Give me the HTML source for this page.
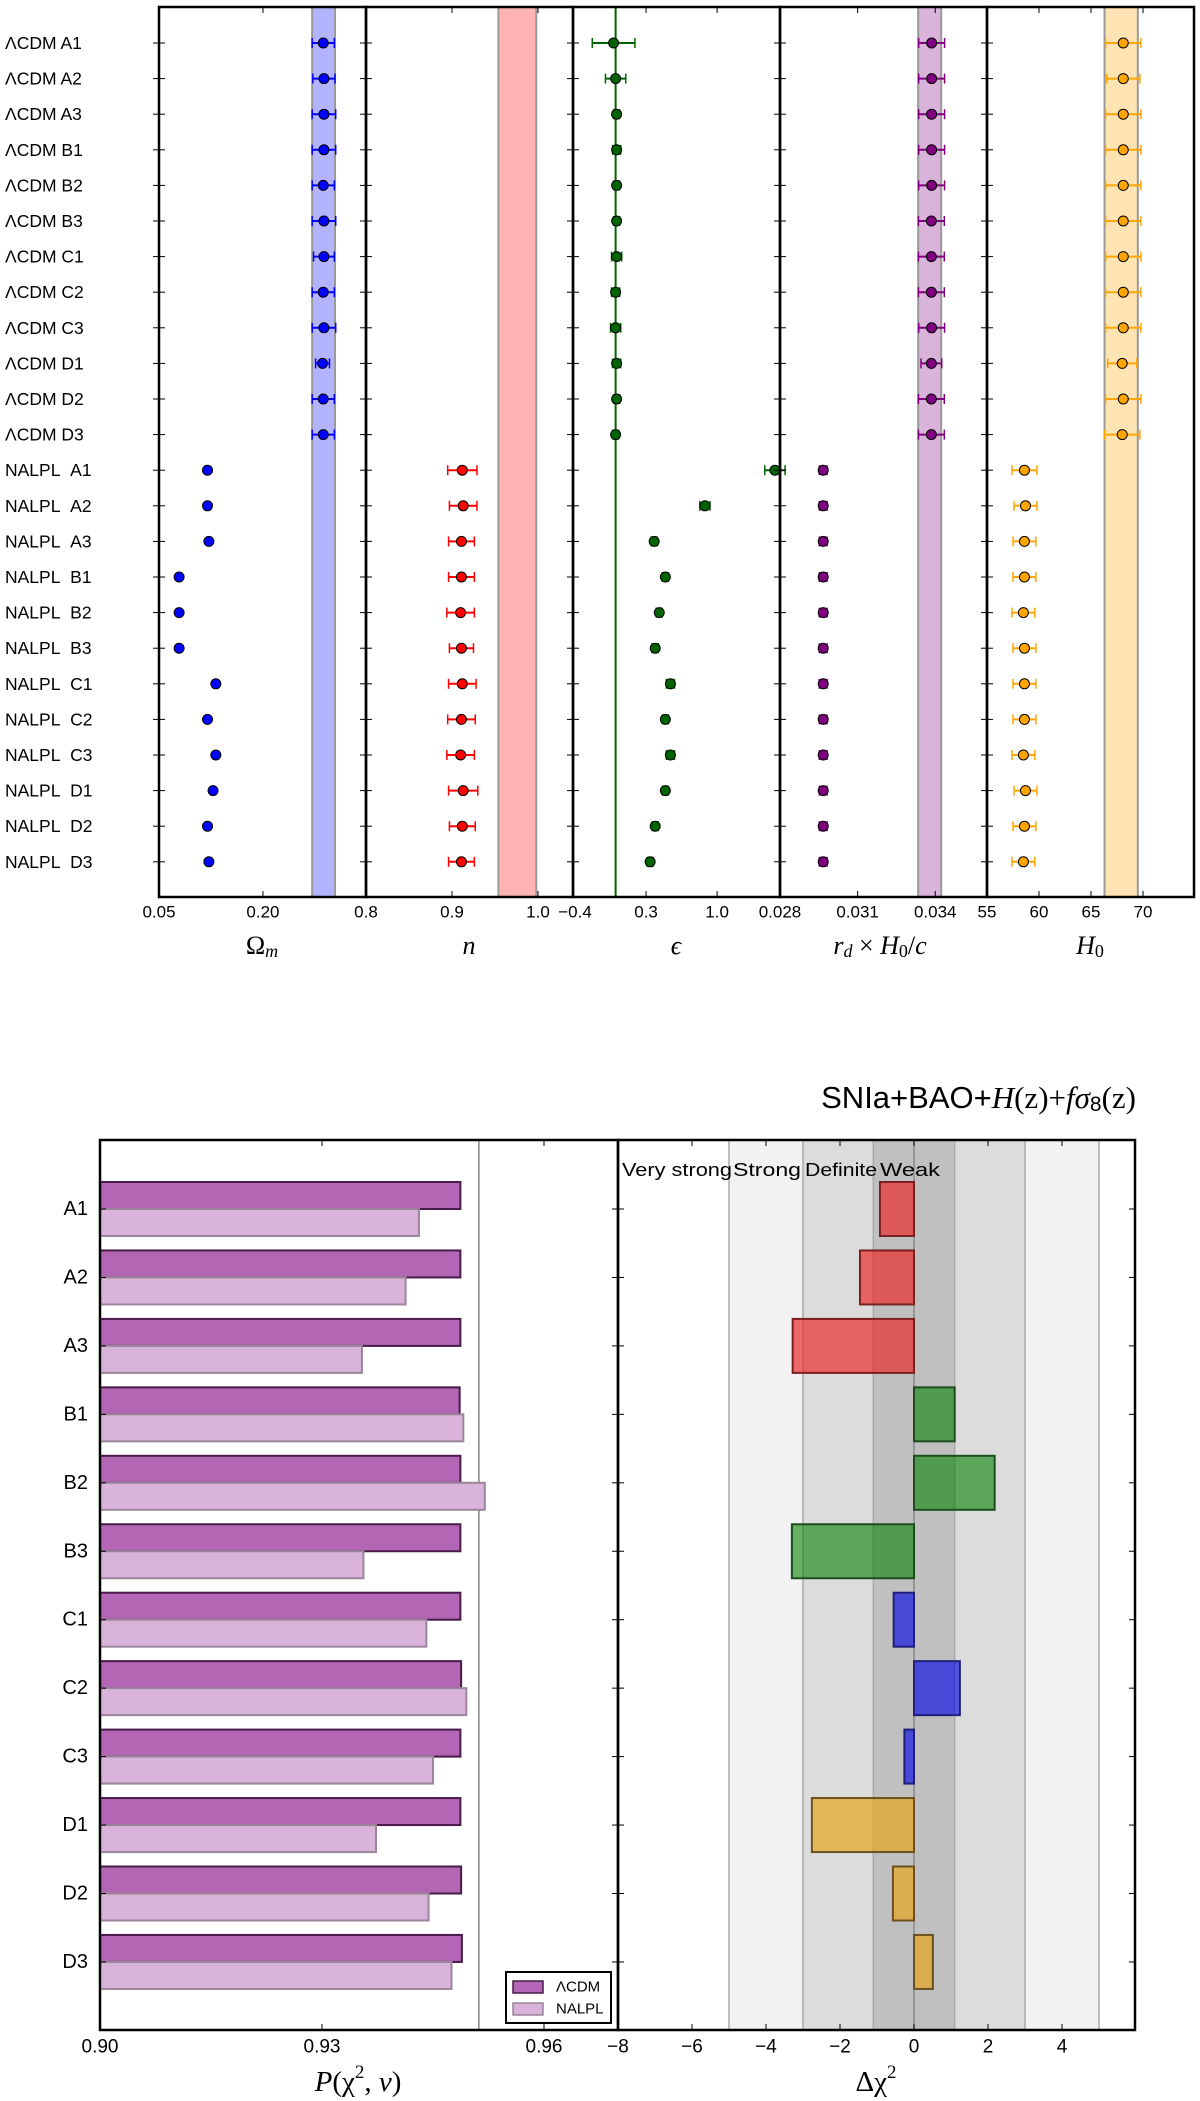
<!DOCTYPE html>
<html><head><meta charset="utf-8"><style>
body{margin:0;background:#fff}
svg{display:block;font-family:"Liberation Sans","DejaVu Sans",sans-serif}
</style></head><body>
<svg id="chart" width="1200" height="2101" viewBox="0 0 1200 2101" xmlns="http://www.w3.org/2000/svg"></svg>
<script>
// ---------- top panel data ----------
const rowLabels=["ΛCDM A1","ΛCDM A2","ΛCDM A3","ΛCDM B1","ΛCDM B2","ΛCDM B3","ΛCDM C1","ΛCDM C2","ΛCDM C3","ΛCDM D1","ΛCDM D2","ΛCDM D3",
"NALPL\u00a0\u00a0A1","NALPL\u00a0\u00a0A2","NALPL\u00a0\u00a0A3","NALPL\u00a0\u00a0B1","NALPL\u00a0\u00a0B2","NALPL\u00a0\u00a0B3","NALPL\u00a0\u00a0C1","NALPL\u00a0\u00a0C2","NALPL\u00a0\u00a0C3","NALPL\u00a0\u00a0D1","NALPL\u00a0\u00a0D2","NALPL\u00a0\u00a0D3"];
const omegaVals=[0.287,0.288,0.288,0.288,0.287,0.288,0.288,0.287,0.288,0.286,0.287,0.287,0.120,0.120,0.122,0.079,0.079,0.079,0.132,0.120,0.132,0.128,0.120,0.122];
const omegaErr=[0.016,0.016,0.017,0.017,0.016,0.017,0.015,0.016,0.017,0.010,0.016,0.016,0,0,0,0,0,0,0,0,0,0,0,0];
const nVals=[null,null,null,null,null,null,null,null,null,null,null,null,0.912,0.913,0.911,0.911,0.910,0.911,0.912,0.911,0.910,0.913,0.912,0.911];
const nErr=[0,0,0,0,0,0,0,0,0,0,0,0,0.017,0.016,0.015,0.015,0.016,0.014,0.016,0.016,0.016,0.017,0.015,0.015];
const epsVals=[-0.02,0.00,0.01,0.01,0.01,0.01,0.01,0.00,0.00,0.01,0.01,0.00,1.57,0.88,0.38,0.49,0.43,0.39,0.54,0.49,0.54,0.49,0.39,0.34];
const epsErr=[0.21,0.10,0.03,0.04,0.03,0.03,0.05,0.04,0.05,0.04,0.03,0.03,0.1,0.05,0.03,0.03,0.03,0.03,0.04,0.03,0.04,0.03,0.03,0.03];
const rdVals=[0.03386,0.03386,0.03386,0.03386,0.03386,0.03385,0.03385,0.03385,0.03386,0.03385,0.03385,0.03385,0.02967,0.02967,0.02967,0.02967,0.02967,0.02967,0.02967,0.02967,0.02967,0.02967,0.02967,0.02967];
const rdErr=[0.0005,0.0005,0.0005,0.0005,0.0005,0.0005,0.0005,0.0005,0.0005,0.0004,0.0005,0.0005,0.00015,0.00015,0.00015,0.00015,0.00015,0.00015,0.00015,0.00015,0.00015,0.00015,0.00015,0.00015];
const h0Vals=[68.1,68.1,68.1,68.1,68.1,68.1,68.1,68.1,68.1,68.0,68.1,68.0,58.6,58.7,58.6,58.6,58.5,58.6,58.6,58.6,58.5,58.7,58.6,58.5];
const h0Err=[1.7,1.6,1.7,1.7,1.7,1.7,1.7,1.7,1.7,1.4,1.7,1.7,1.2,1.1,1.1,1.1,1.1,1.1,1.1,1.1,1.1,1.1,1.1,1.1];
const omegaTicks=["0.05","0.20"], nTicks=["0.8","0.9","1.0"], epsTicks=["-0.4","0.3","1.0"], rdTicks=["0.028","0.031","0.034"], h0Ticks=["55","60","65","70"];
const omegaBand=[0.271,0.304], nBand=[0.954,0.998], rdBand=[0.03334,0.03423], h0Band=[66.3,69.5];
// ---------- bottom panel data ----------
const modelLabels=["A1","A2","A3","B1","B2","B3","C1","C2","C3","D1","D2","D3"];
const pLCDM=[0.9487,0.9487,0.9487,0.9486,0.9487,0.9487,0.9487,0.9488,0.9487,0.9487,0.9488,0.9489];
const pNALPL=[0.9431,0.9413,0.9354,0.9491,0.9520,0.9356,0.9441,0.9495,0.9450,0.9373,0.9444,0.9475];
const dChi2=[-0.92,-1.46,-3.28,1.10,2.18,-3.30,-0.55,1.24,-0.26,-2.76,-0.57,0.51];
const pTicks=["0.90","0.93","0.96"];
const dTicks=["-8","-6","-4","-2","0","2","4"];
const bandLabels=["Very strong","Strong","Definite","Weak"];

const svg=document.getElementById('chart');
const NS="http://www.w3.org/2000/svg";
function mk(tag,attrs,parent){const e=document.createElementNS(NS,tag);for(const k in attrs)e.setAttribute(k,attrs[k]);(parent||svg).appendChild(e);return e;}
function txt(s,x,y,size,anchor,parent,extra){const t=mk('text',Object.assign({x:x,y:y,'font-size':size,'text-anchor':anchor||'middle','dominant-baseline':'central',fill:'#000'},extra||{}),parent);t.textContent=s;return t;}
function lin(d0,d1,r0,r1){return v=>r0+(v-d0)*(r1-r0)/(d1-d0);}

// ---------- TOP PANEL ----------
const topBox={y0:7,y1:897};
const rowY=i=>43+i*35.6;
const panels=[
 {name:'omega',x0:159,x1:366,d:[0.05,0.3487],vals:omegaVals,err:omegaErr,ticks:omegaTicks,band:omegaBand,col:'#0000ff',bandCol:'#b3b3ff'},
 {name:'n',x0:366,x1:573,d:[0.8,1.0407],vals:nVals,err:nErr,ticks:nTicks,band:nBand,col:'#ff0000',bandCol:'#ffb3b3'},
 {name:'epsilon',x0:573,x1:780,d:[-0.42,1.62],vals:epsVals,err:epsErr,ticks:epsTicks,band:null,col:'#006400',bandCol:null},
 {name:'rd-h0-c',x0:780,x1:987,d:[0.028,0.036],vals:rdVals,err:rdErr,ticks:rdTicks,band:rdBand,col:'#800080',bandCol:'#d9b3d9'},
 {name:'h0',x0:987,x1:1194,d:[55,74.9],vals:h0Vals,err:h0Err,ticks:h0Ticks,band:h0Band,col:'#ffa500',bandCol:'#ffe4b3'}
];
const gTop=mk('g',{});


rowLabels.forEach((l,i)=>{const t=txt(l,5,rowY(i),17.5,'start',gTop);
 
 });
panels.forEach((p,pi)=>{
 const g=mk('g',{},gTop);
 
 
 const X=lin(p.d[0],p.d[1],p.x0,p.x1);
 if(p.band){const b=mk('rect',{x:X(p.band[0]),y:topBox.y0,width:X(p.band[1])-X(p.band[0]),height:topBox.y1-topBox.y0,fill:p.bandCol,stroke:'#999',"stroke-width":2},g);
  
  }
 if(p.name==='epsilon'){const l=mk('line',{x1:X(0),x2:X(0),y1:topBox.y0,y2:topBox.y1,stroke:'#006400','stroke-width':2},g);
  
  }
 p.ticks.forEach((t,ti)=>{const v=parseFloat(t);const x=X(v);
  if(Math.abs(x-p.x0)>3){mk('line',{x1:x,x2:x,y1:topBox.y1,y2:topBox.y1-6,stroke:'#000'},g);mk('line',{x1:x,x2:x,y1:topBox.y0,y2:topBox.y0+6,stroke:'#000'},g);}
  const s=t.replace('-','−');
  const tl=txt(s,x,912,17,'middle',g);
  
  
 });
 for(let i=0;i<24;i++){const y=rowY(i);mk('line',{x1:p.x0-6,x2:p.x0+6,y1:y,y2:y,stroke:'#000'},g);}
 p.vals.forEach((v,i)=>{if(v==null)return;const y=rowY(i),x=X(v);
  const pt=mk('g',{},g);
  
  
  const e=p.err[i];
  if(e>0){const xa=X(v-e),xb=X(v+e);
   mk('line',{x1:xa,x2:xb,y1:y,y2:y,stroke:p.col,'stroke-width':2},pt);
   mk('line',{x1:xa,x2:xa,y1:y-5,y2:y+5,stroke:p.col,'stroke-width':1.5},pt);
   mk('line',{x1:xb,x2:xb,y1:y-5,y2:y+5,stroke:p.col,'stroke-width':1.5},pt);}
  mk('circle',{cx:x,cy:y,r:5,fill:p.col,stroke:'#000','stroke-width':1},pt);
 });
 mk('rect',{x:p.x0,y:topBox.y0,width:p.x1-p.x0,height:topBox.y1-topBox.y0,fill:'none',stroke:'#000','stroke-width':2.5},g);
});
function ital(parts,x,y,name){const t=mk('text',{x:x,y:y,'font-size':26,'text-anchor':'middle','font-family':'"Liberation Serif",serif','dominant-baseline':'central'},gTop);
 
 
 parts.forEach(pp=>{const s=mk('tspan',pp[1]||{},t);s.textContent=pp[0];});return t;}
ital([["Ω"],["m",{'font-style':'italic','font-size':18,dy:6}]],262,945,'omega-axis-title');
ital([["n",{'font-style':'italic'}]],469,945,'n-axis-title');
ital([["ϵ",{'font-style':'italic'}]],676,945,'epsilon-axis-title');
ital([["r",{'font-style':'italic'}],["d",{'font-style':'italic','font-size':18,dy:6}],[" × ",{dy:-6}],["H",{'font-style':'italic'}],["0",{'font-size':18,dy:6}],["/",{dy:-6}],["c",{'font-style':'italic'}]],880,945,'rd-axis-title');
ital([["H",{'font-style':'italic'}],["0",{'font-size':18,dy:6}]],1090,945,'h0-axis-title');

// ---------- BOTTOM PANEL ----------
const B={y0:1140,y1:2030,lx0:100,lx1:618,rx1:1135};
const rowC=i=>1209+i*68.45;
const PX=lin(0.90,0.96,100,544);
const DX=lin(-8,0,618,914);
const gB=mk('g',{});


const chartTitle=mk('text',{x:1136,y:1097,'font-size':31,'text-anchor':'end','dominant-baseline':'central'},gB);


[["SNIa+BAO+"],["H",{'font-style':'italic','font-family':'"Liberation Serif",serif'}],["(z)+",{'font-family':'"Liberation Serif",serif'}],["fσ",{'font-style':'italic','font-family':'"Liberation Serif",serif'}],["8",{'font-size':21,dy:7}],["(z)",{dy:-7,'font-family':'"Liberation Serif",serif'}]].forEach(pp=>{const s=mk('tspan',pp[1]||{},chartTitle);s.textContent=pp[0];});
const gL=mk('g',{},gB);


mk('line',{x1:PX(0.9512),x2:PX(0.9512),y1:B.y0,y2:B.y1,stroke:'#888','stroke-width':1.5},gL);
modelLabels.forEach((m,i)=>{const c=rowC(i);
 const b1=mk('rect',{x:PX(0.90),y:c-27,width:PX(pLCDM[i])-PX(0.90),height:27,fill:'#b366b3',stroke:'#4a1a4a','stroke-width':2},gL);
 
 
 const b2=mk('rect',{x:PX(0.90),y:c,width:PX(pNALPL[i])-PX(0.90),height:27,fill:'#d9b3d9',stroke:'#9a859a','stroke-width':2},gL);
 
 
 const t=txt(m,88,c,20,'end',gL);
 
 
 mk('line',{x1:100,x2:106,y1:c,y2:c,stroke:'#000'},gL);
 mk('line',{x1:612,x2:624,y1:c,y2:c,stroke:'#000'},gL);
 mk('line',{x1:1129,x2:1135,y1:c,y2:c,stroke:'#000'},gL);
});
pTicks.forEach(t=>{const x=PX(parseFloat(t));
 if(x>101){mk('line',{x1:x,x2:x,y1:B.y1,y2:B.y1-6,stroke:'#000'},gL);mk('line',{x1:x,x2:x,y1:B.y0,y2:B.y0+6,stroke:'#000'},gL);}
 const tl=txt(t,x,2047,19,'middle',gL);
 
 });
const lg=mk('g',{},gL);


mk('rect',{x:506,y:1972,width:105,height:51,fill:'#fff',stroke:'#000','stroke-width':2},lg);
mk('rect',{x:513,y:1981,width:30,height:12,fill:'#b366b3',stroke:'#4a1a4a','stroke-width':1.5},lg);
mk('rect',{x:513,y:2003,width:30,height:12,fill:'#d9b3d9',stroke:'#9a859a','stroke-width':1.5},lg);
const le1=txt('ΛCDM',556,1987,15,'start',lg);


const le2=txt('NALPL',556,2009,15,'start',lg);


mk('rect',{x:100,y:B.y0,width:518,height:B.y1-B.y0,fill:'none',stroke:'#000','stroke-width':2.5},gL);
const gR=mk('g',{},gB);


[[-5,5,'#f2f2f2'],[-3,3,'#dcdcdc'],[-1.1,1.1,'#c0c0c0']].forEach(b=>{const r=mk('rect',{x:DX(b[0]),y:B.y0,width:DX(b[1])-DX(b[0]),height:B.y1-B.y0,fill:b[2],stroke:'#aaa','stroke-width':1.5},gR);
 
 });
mk('line',{x1:DX(0),x2:DX(0),y1:B.y0,y2:B.y1,stroke:'#888','stroke-width':1.5},gR);
const bandX=[622,733,805,880];
bandLabels.forEach((l,i)=>{const t=txt(l,bandX[i],1170,18,'start',gR,{textLength:[110,68,72,60][i],lengthAdjust:'spacingAndGlyphs'});
 
 });
const groupCols=['rgba(235,40,40,0.68)','rgba(0,128,0,0.58)','rgba(0,0,230,0.62)','rgba(230,165,30,0.7)'];
const groupEdge=['#7a2020','#1d4d1d','#20207a','#6b5020'];
dChi2.forEach((v,i)=>{const c=rowC(i);const x0=DX(Math.min(0,v)),x1=DX(Math.max(0,v));const gi=Math.floor(i/3);
 const r=mk('rect',{x:x0,y:c-27,width:x1-x0,height:54,fill:groupCols[gi],stroke:groupEdge[gi],'stroke-width':2},gR);
 
 });
dTicks.forEach(t=>{const v=parseFloat(t);const x=DX(v);
 if(x>620){mk('line',{x1:x,x2:x,y1:B.y1,y2:B.y1-6,stroke:'#000'},gR);mk('line',{x1:x,x2:x,y1:B.y0,y2:B.y0+6,stroke:'#000'},gR);}
 const s=t.replace('-','−');
 const tl=txt(s,x,2047,19,'middle',gR);
 
 });
mk('rect',{x:618,y:B.y0,width:B.rx1-618,height:B.y1-B.y0,fill:'none',stroke:'#000','stroke-width':2.5},gR);
const ptT=mk('text',{x:358,y:2082,'font-size':29,'text-anchor':'middle','dominant-baseline':'central','font-family':'"Liberation Serif",serif'},gB);


[["P",{'font-style':'italic'}],["(χ"],["2",{'font-size':19,dy:-10}],[", ",{dy:10}],["ν",{'font-style':'italic'}],[")"]].forEach(pp=>{const s=mk('tspan',pp[1]||{},ptT);s.textContent=pp[0];});
const dtT=mk('text',{x:876,y:2082,'font-size':29,'text-anchor':'middle','dominant-baseline':'central','font-family':'"Liberation Serif",serif'},gB);


[["Δχ"],["2",{'font-size':19,dy:-10}]].forEach(pp=>{const s=mk('tspan',pp[1]||{},dtT);s.textContent=pp[0];});
</script>
</body></html>
